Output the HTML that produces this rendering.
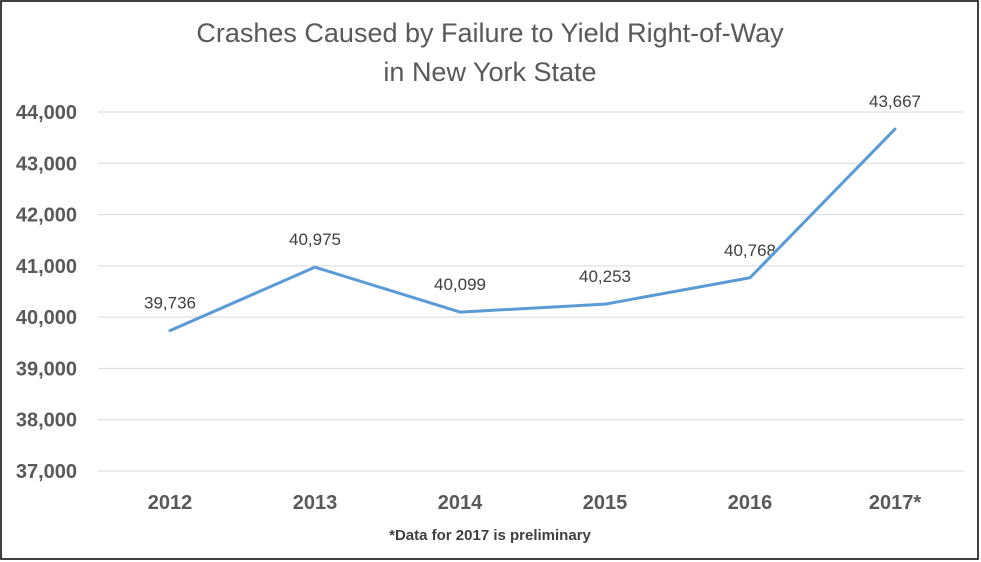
<!DOCTYPE html>
<html><head><meta charset="utf-8"><style>
body{margin:0;background:#fff;}
svg{display:block;font-family:"Liberation Sans",Calibri,sans-serif;}
</style></head><body>
<svg id="chart" width="981" height="562">
<rect x="1" y="1" width="977" height="558" fill="#fff" stroke="#000" stroke-width="1.5"/>
<text x="490" y="42" text-anchor="middle" font-size="27" fill="#595959">Crashes Caused by Failure to Yield Right-of-Way</text>
<text x="490" y="81" text-anchor="middle" font-size="27" fill="#595959">in New York State</text>
<text x="490" y="540" text-anchor="middle" font-size="15" font-weight="bold" fill="#404040">*Data for 2017 is preliminary</text>
<g id="grid"></g><g id="labels"></g><g id="series"></g>
</svg>
<script>
const categories=["2012","2013","2014","2015","2016","2017*"];
const values=[39736,40975,40099,40253,40768,43667];
const valueLabels=["39,736","40,975","40,099","40,253","40,768","43,667"];
const yTicks=[37000,38000,39000,40000,41000,42000,43000,44000];
const yTickLabels=["37,000","38,000","39,000","40,000","41,000","42,000","43,000","44,000"];
const NS="http://www.w3.org/2000/svg";
function y(v){return 471-(v-37000)*(471-112)/7000;}
function x(i){return 170+i*145;}
function mk(t,a,p){const e=document.createElementNS(NS,t);for(const k in a)e.setAttribute(k,a[k]);p.appendChild(e);return e;}
const grid=document.getElementById('grid'),labels=document.getElementById('labels'),series=document.getElementById('series');
yTicks.forEach((v,i)=>{
 const l=mk('line',{x1:98,x2:964,y1:y(v),y2:y(v),stroke:'#d9d9d9','stroke-width':1},grid);
 
 
 const t=mk('text',{x:77,y:y(v)+7,'text-anchor':'end','font-size':20,'font-weight':'bold',fill:'#595959'},labels);
 t.textContent=yTickLabels[i];
 
 
});
categories.forEach((c,i)=>{
 const t=mk('text',{x:x(i),y:509,'text-anchor':'middle','font-size':20,'font-weight':'bold',fill:'#595959'},labels);
 t.textContent=c;
 
 
});
const pts=values.map((v,i)=>x(i)+','+y(v)).join(' ');
const pl=mk('polyline',{points:pts,fill:'none',stroke:'#5b9bd5','stroke-width':3,'stroke-linejoin':'round','stroke-linecap':'round'},series);


values.forEach((v,i)=>{
 const t=mk('text',{x:x(i),y:y(v)-22,'text-anchor':'middle','font-size':17,fill:'#404040'},labels);
 t.textContent=valueLabels[i];
 
 
});
</script>
</body></html>
